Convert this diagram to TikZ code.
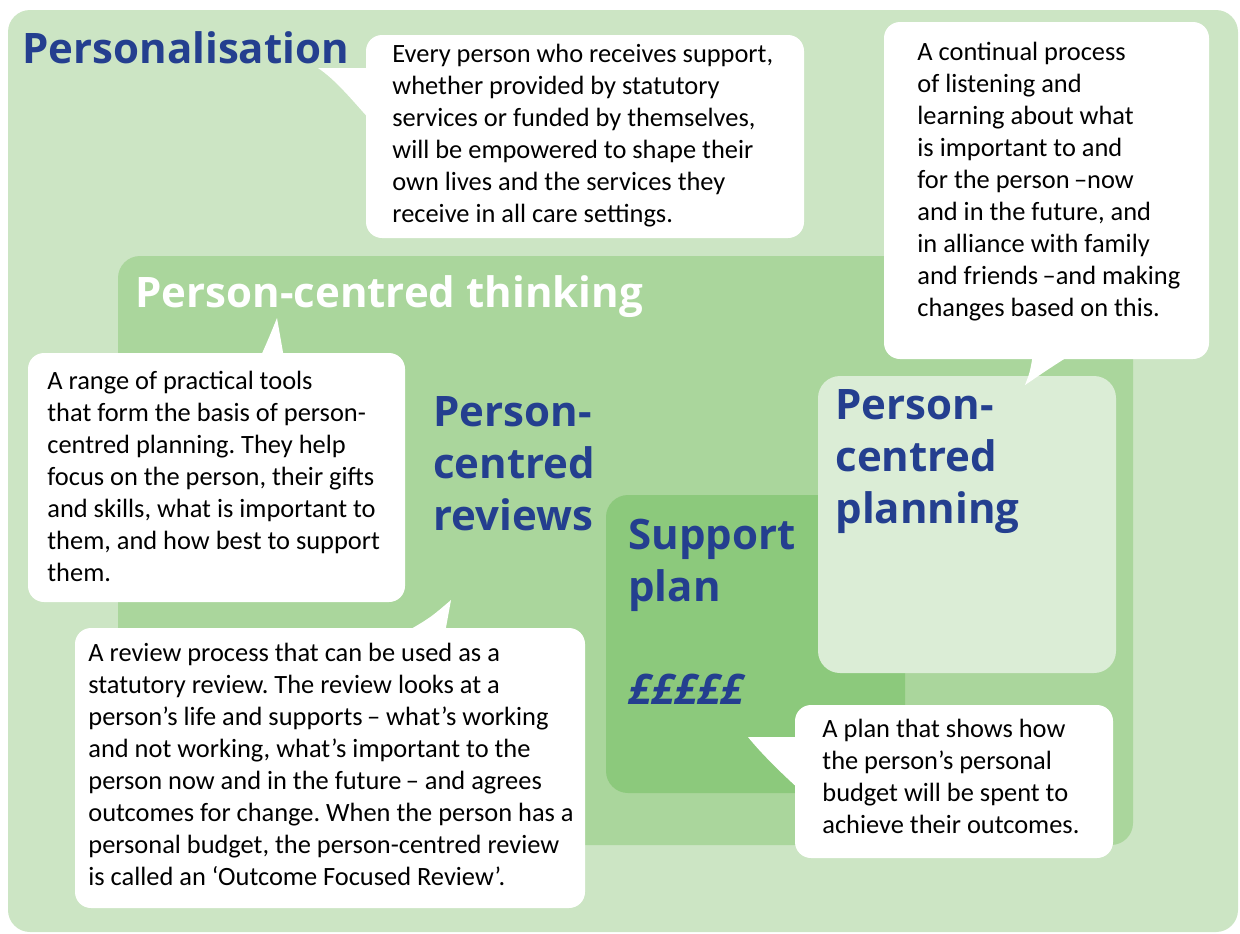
\documentclass[tikz,border=0pt]{standalone}
\usepackage{fontspec}
\setmainfont{Carlito}
\newfontfamily\headfont{Open Sans}
\definecolor{outergreen}{HTML}{CCE5C4}
\definecolor{midgreen}{HTML}{AAD69C}
\definecolor{plangreen}{HTML}{8CC97C}
\definecolor{palegreen}{HTML}{DBEDD6}
\definecolor{pcblue}{HTML}{243F8F}
\tikzset{
  panel/.style={rounded corners=11pt},
  callout/.style={fill=white, rounded corners=8pt},
  blurb/.style={anchor=north west, inner sep=0pt, align=left,
    font=\fontsize{13.2}{16}\selectfont\frenchspacing},
  heading/.style={anchor=north west, inner sep=0pt, align=left, text=pcblue,
    font=\headfont\bfseries\fontsize{21}{26}\selectfont},
}
\begin{document}
\begin{tikzpicture}[x=0.5pt,y=-0.5pt]
    \useasboundingbox (0,0) rectangle (1240,933);
    % background panels
    \fill[outergreen,panel] (8,10) rectangle (1238,932);
    \fill[midgreen,panel] (118,256) rectangle (1133,845);
    \fill[plangreen,panel] (606,495) rectangle (905,793);
    \fill[palegreen,panel] (818,376) rectangle (1116,673);
    % headings
    \node[heading] (persTitle) at (22,31) {Personalisation};
    \node[heading,text=white] (thinkTitle) at (135,275) {Person-centred thinking};
    \node[heading] (reviewTitle) at (433,396) {Person-\\centred\\reviews};
    \node[heading] (planTitle) at (835,389) {Person-\\centred\\planning};
    \node[heading] (supportTitle) at (628,519) {Support\\plan};
    \node[heading,font=\headfont\bfseries\itshape\fontsize{21}{26}\selectfont] (poundSigns) at (628,674) {£££££};
    % callout for personalisation
    \fill[callout] (366,35) rectangle (804,238);
    \fill[white] (318,68) -- (372,68) -- (372,122) .. controls (352,100) and (336,80) .. cycle;
    \node[blurb] (persText) at (392,44) {Every person who receives support,\\
      whether provided by statutory\\
      services or funded by themselves,\\
      will be empowered to shape their\\
      own lives and the services they\\
      receive in all care settings.};
    % callout for planning
    \fill[callout] (884,22) rectangle (1209,359);
    \fill[white] (1033,354) -- (1072,354) .. controls (1050,368) .. (1025,385) .. controls (1030,372) .. cycle;
    \node[blurb] (planText) at (917,42) {A continual process\\
      of listening and\\
      learning about what\\
      is important to and\\
      for the person\,--now\\
      and in the future, and\\
      in alliance with family\\
      and friends\,--and making\\
      changes based on this.};
    % callout for thinking
    \fill[callout] (28,353) rectangle (405,602);
    \fill[white] (260,358) .. controls (268,340) .. (277,318) -- (284,358) -- cycle;
    \node[blurb] (thinkText) at (47,371) {A range of practical tools\\
      that form the basis of person-\\
      centred planning. They help\\
      focus on the person, their gifts\\
      and skills, what is important to\\
      them, and how best to support\\
      them.};
    % callout for reviews
    \fill[callout] (75,628) rectangle (585,908);
    \fill[white] (404,633) .. controls (430,618) .. (451,600) -- (445,633) -- cycle;
    \node[blurb] (reviewText) at (88,643) {A review process that can be used as a\\
      statutory review. The review looks at a\\
      person’s life and supports\,-- what’s working\\
      and not working, what’s important to the\\
      person now and in the future\,-- and agrees\\
      outcomes for change. When the person has a\\
      personal budget, the person-centred review\\
      is called an ‘Outcome Focused Review’.};
    % callout for support plan
    \fill[callout] (795,705) rectangle (1113,858);
    \fill[white] (748,737) -- (800,737) -- (800,790) .. controls (780,772) and (760,752) .. cycle;
    \node[blurb] (supportText) at (822,719) {A plan that shows how\\
      the person’s personal\\
      budget will be spent to\\
      achieve their outcomes.};
\end{tikzpicture}
\end{document}
